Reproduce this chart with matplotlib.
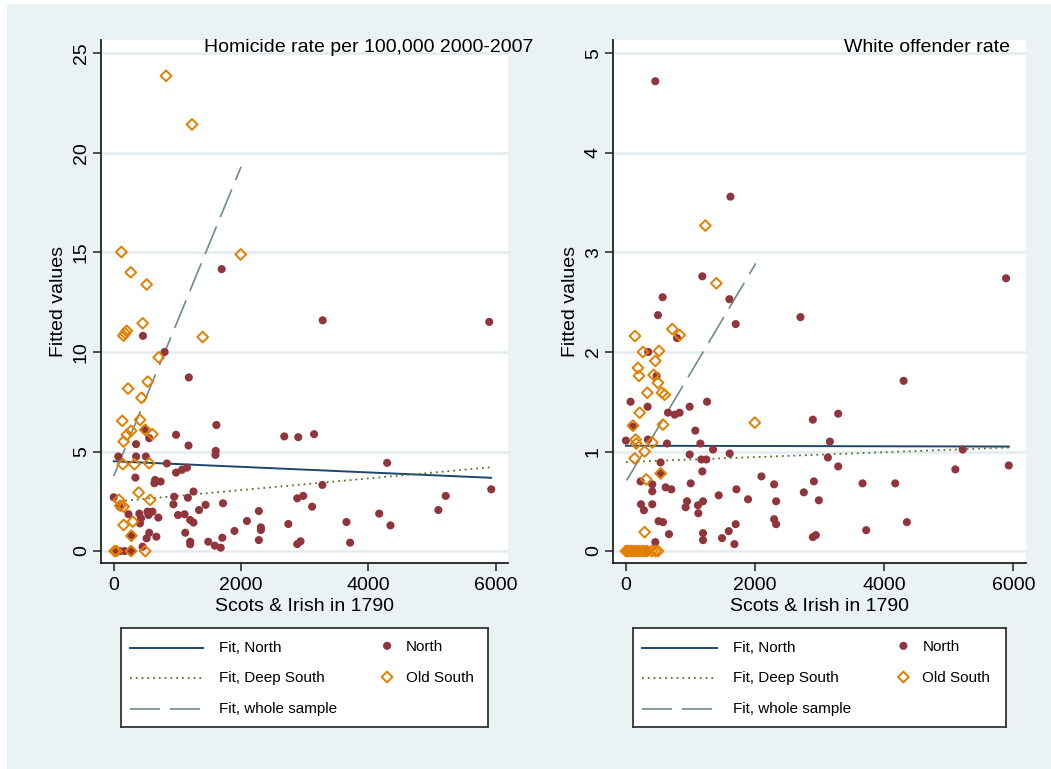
import numpy as np
import matplotlib
matplotlib.use("Agg")
import matplotlib.pyplot as plt
from matplotlib.patches import Rectangle

plt.rcParams['font.family'] = ['Liberation Sans', 'DejaVu Sans']

# ---- colours (Stata s2color-ish)
BG = '#EAF2F3'
GRID = '#E2EBEE'
NAVY = '#1A476F'
MAROON = '#90353B'
FOREST = '#55752F'
ORANGE = '#E37E00'
TEAL = '#6E8E84'

# ---- left panel: homicide rate
hom_north_x = [1696, 3283, 5900, 459, 799, 1180, 1613, 979, 2680, 2899, 3148, 1175, 485, 557,
               351, 1603, 1598, 72, 351, 505, 835, 4296, 340, 979, 1072, 1150, 650, 737, 639,
               3278, 0, 949, 1165, 1253, 2883, 2977, 938, 1443, 1340, 1717, 3117, 2280, 232,
               402, 428, 412, 531, 608, 546, 701, 1010, 1113, 1201, 1253, 1124, 557, 516, 670,
               1201, 1201, 1485, 1588, 1681, 1897, 2093, 1706, 454, 15, 93, 170, 273, 278, 93,
               2312, 2312, 2280, 2743, 2883, 2935, 3657, 3714, 4171, 4348, 5101, 5216, 5932]
hom_north_y = [14.16, 11.59, 11.51, 10.81, 10.0, 8.72, 6.33, 5.84, 5.76, 5.72, 5.87, 5.30, 6.12,
               5.67, 5.37, 5.03, 4.83, 4.75, 4.75, 4.75, 4.40, 4.43, 3.69, 3.94, 4.08, 4.19,
               3.57, 3.49, 3.41, 3.32, 2.70, 2.73, 2.68, 2.99, 2.65, 2.77, 2.35, 2.32, 2.06,
               2.40, 2.23, 2.01, 1.85, 1.88, 1.64, 1.39, 1.98, 1.98, 1.81, 1.68, 1.81, 1.85,
               1.56, 1.43, 0.92, 0.92, 0.64, 0.72, 0.47, 0.34, 0.47, 0.27, 0.17, 1.01, 1.51,
               0.67, 0.22, 0, 0, 0, 0, 0.77, 2.23, 1.19, 1.06, 0.55, 1.36, 0.35, 0.49, 1.46,
               0.42, 1.88, 1.29, 2.06, 2.77, 3.10]
hom_south_x = [822, 1230, 1995, 120, 267, 518, 455, 152, 178, 204, 1398, 707, 225, 534, 435,
               134, 412, 206, 273, 155, 495, 608, 144, 325, 557, 392, 572, 82, 103, 155, 299,
               155, 278, 15, 41, 273, 495]
hom_south_y = [23.87, 21.43, 14.9, 15.02, 14.0, 13.39, 11.44, 10.82, 10.94, 11.06, 10.75, 9.73,
               8.16, 8.51, 7.70, 6.54, 6.59, 5.84, 6.04, 5.50, 6.09, 5.87, 4.36, 4.36, 4.41,
               2.94, 2.57, 2.57, 2.28, 2.23, 1.48, 1.31, 0.77, 0, 0, 0, 0]
hom_fit_north = ([0, 5930], [4.51, 3.68])
hom_fit_deep = ([0, 5930], [2.48, 4.21])
hom_fit_all = ([0, 2000], [3.77, 19.3])

# ---- right panel: white offender rate
off_north_x = [455, 1618, 1183, 5886, 568, 1602, 496, 2703, 1700, 791, 346, 475, 4300, 72, 336,
               987, 1256, 651, 755, 832, 109, 0, 341, 636, 1075, 1153, 1349, 1607, 987, 1168,
               1245, 537, 537, 1183, 227, 408, 408, 615, 703, 1003, 2098, 233, 279, 408, 946,
               925, 1116, 1194, 1121, 1437, 1711, 1891, 506, 574, 667, 1194, 1194, 1488, 1592,
               1680, 1700, 455, 2894, 3287, 3158, 3127, 3287, 5215, 5101, 5928, 2295, 2910,
               2755, 2326, 2987, 3664, 4170, 2295, 2326, 2894, 2941, 3721, 4351, 60, 150, 250, 300]
off_north_y = [4.72, 3.56, 2.76, 2.74, 2.55, 2.53, 2.37, 2.35, 2.28, 2.14, 2.0, 1.76, 1.71, 1.50,
               1.45, 1.45, 1.50, 1.39, 1.37, 1.39, 1.25, 1.11, 1.12, 1.08, 1.21, 1.08, 1.02,
               0.98, 0.97, 0.92, 0.92, 0.89, 0.78, 0.80, 0.70, 0.67, 0.60, 0.64, 0.62, 0.68,
               0.75, 0.47, 0.41, 0.47, 0.50, 0.44, 0.46, 0.50, 0.38, 0.56, 0.62, 0.52, 0.30,
               0.29, 0.17, 0.18, 0.11, 0.13, 0.20, 0.07, 0.27, 0.09, 1.32, 1.38, 1.10, 0.94,
               0.85, 1.02, 0.82, 0.86, 0.67, 0.70, 0.59, 0.50, 0.51, 0.68, 0.68, 0.32, 0.27,
               0.14, 0.16, 0.21, 0.29, 0, 0, 0, 0]
off_south_x = [1230, 1400, 140, 718, 832, 264, 512, 455, 186, 202, 429, 496, 331, 558, 600, 212,
               109, 574, 1995, 150, 160, 408, 289, 134, 537, 315, 289,
               0, 30, 60, 90, 130, 170, 210, 250, 290, 330, 400, 455, 496]
off_south_y = [3.27, 2.69, 2.16, 2.23, 2.17, 2.0, 2.01, 1.91, 1.84, 1.76, 1.77, 1.69, 1.59, 1.59,
               1.57, 1.39, 1.26, 1.27, 1.29, 1.12, 1.08, 1.09, 1.0, 0.93, 0.78, 0.72, 0.19,
               0, 0, 0, 0, 0, 0, 0, 0, 0, 0, 0, 0, 0]
off_fit_north = ([0, 5930], [1.058, 1.05])
off_fit_deep = ([0, 5930], [0.895, 1.04])
off_fit_all = ([12, 2011], [0.71, 2.89])

W, H = 1051, 769


def px_box(x0, y0, x1, y1):
    # pixel box (top-left origin) -> figure fraction rect
    return [x0 / W, 1 - y1 / H, (x1 - x0) / W, (y1 - y0) / H]


def draw_panel(ax, nx, ny, sx, sy, fn, fd, fa, ylim, yticks):
    ax.set_facecolor('white')
    ax.plot(fn[0], fn[1], color=NAVY, lw=1.4, zorder=3)
    ax.plot(fd[0], fd[1], color=FOREST, lw=1.3, ls=(0, (1, 2.2)), zorder=3)
    ax.plot(fa[0], fa[1], color=TEAL, lw=1.2, ls=(0, (18, 6)), zorder=3)
    ax.scatter(nx, ny, s=34, color=MAROON, edgecolors='none', zorder=4)
    ax.scatter(sx, sy, s=30, marker='D', facecolors='none', edgecolors=ORANGE,
               linewidths=1.4, zorder=5)
    ax.set_xlim(-200, 6195)
    ax.set_ylim(*ylim)
    ax.set_xticks([0, 2000, 4000, 6000])
    ax.set_yticks(yticks)
    ax.yaxis.grid(True, color=GRID, lw=1.8, zorder=0)
    ax.set_axisbelow(True)
    for s in ['top', 'right']:
        ax.spines[s].set_visible(False)
    for s in ['left', 'bottom']:
        ax.spines[s].set_linewidth(1.3)
        ax.spines[s].set_color('#222222')
    ax.tick_params(direction='out', length=6, width=1.1, labelsize=14, colors='#222222',
                   labelcolor='black', pad=4)
    ax.tick_params(axis='y', pad=2)
    for lab in ax.get_yticklabels():
        lab.set_rotation(90)
        lab.set_va('center')
    ax.set_xlabel('Scots & Irish in 1790', fontsize=14, labelpad=3)
    ax.set_ylabel('Fitted values', fontsize=14, labelpad=4)


def draw_legend(fig, rect):
    lax = fig.add_axes(rect)
    lax.set_xlim(0, 1)
    lax.set_ylim(0, 1)
    lax.set_xticks([])
    lax.set_yticks([])
    lax.set_facecolor('white')
    for s in lax.spines.values():
        s.set_linewidth(1.3)
        s.set_color('#333333')
    rows = [0.80, 0.495, 0.185]
    lax.plot([0.025, 0.224], [rows[0]] * 2, color=NAVY, lw=1.4)
    lax.plot([0.025, 0.224], [rows[1]] * 2, color=FOREST, lw=1.3, ls=(0, (1, 2.2)))
    lax.plot([0.025, 0.224], [rows[2]] * 2, color=TEAL, lw=1.2, ls=(0, (18, 6)))
    labels = ['Fit, North', 'Fit, Deep South', 'Fit, whole sample']
    for r, t in zip(rows, labels):
        lax.text(0.267, r, t, fontsize=11, va='center', ha='left')
    lax.scatter([0.725], [rows[0] + 0.02], s=34, color=MAROON, edgecolors='none')
    lax.scatter([0.725], [rows[1] + 0.01], s=30, marker='D', facecolors='none',
                edgecolors=ORANGE, linewidths=1.4)
    lax.text(0.776, rows[0] + 0.01, 'North', fontsize=11, va='center', ha='left')
    lax.text(0.776, rows[1], 'Old South', fontsize=11, va='center', ha='left')


fig = plt.figure(figsize=(W / 100, H / 100), dpi=100, facecolor='white')
fig.patches.append(Rectangle((7 / W, 0), 1 - 7 / W, 1 - 4 / H, transform=fig.transFigure,
                             facecolor=BG, edgecolor='none', zorder=-10))

ax1 = fig.add_axes(px_box(101, 40, 508, 563))
draw_panel(ax1, hom_north_x, hom_north_y, hom_south_x, hom_south_y,
           hom_fit_north, hom_fit_deep, hom_fit_all, (-0.6, 25.67), [0, 5, 10, 15, 20, 25])
fig.text(533 / W, 1 - 48 / H, 'Homicide rate per 100,000 2000-2007', fontsize=14,
         ha='right', va='center')

ax2 = fig.add_axes(px_box(613, 40, 1026, 563))
draw_panel(ax2, off_north_x, off_north_y, off_south_x, off_south_y,
           off_fit_north, off_fit_deep, off_fit_all, (-0.12, 5.134), [0, 1, 2, 3, 4, 5])
fig.text(1010 / W, 1 - 48 / H, 'White offender rate', fontsize=14, ha='right', va='center')

draw_legend(fig, px_box(121, 628, 488, 727))
draw_legend(fig, px_box(633, 628, 1006, 727))

fig.savefig('out.png', dpi=100, facecolor=fig.get_facecolor())
